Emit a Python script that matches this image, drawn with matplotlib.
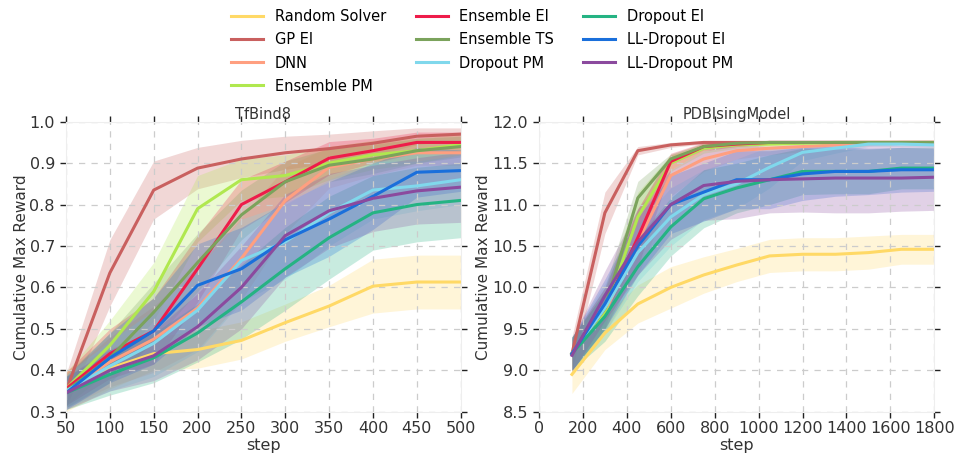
import numpy as np
import matplotlib
matplotlib.use("Agg")
import matplotlib.pyplot as plt

names = ["Random Solver", "GP EI", "DNN", "Ensemble PM", "Ensemble EI",
         "Ensemble TS", "Dropout PM", "Dropout EI", "LL-Dropout EI", "LL-Dropout PM"]
colors = ["#ffd966", "#c9605f", "#ff9f80", "#b0e84f", "#ee1c4a",
          "#7ba35c", "#80d8ec", "#25b383", "#1a6fdb", "#8b4a9e"]

# TfBind8
tf_steps = [50, 100, 150, 200, 250, 300, 350, 400, 450, 500]
tf_mean = {
    "Random Solver": [0.35, 0.405, 0.44, 0.45, 0.472, 0.515, 0.555, 0.603, 0.613, 0.613],
    "GP EI":         [0.35, 0.635, 0.835, 0.888, 0.91, 0.925, 0.935, 0.948, 0.965, 0.97],
    "DNN":           [0.35, 0.42, 0.475, 0.55, 0.67, 0.81, 0.89, 0.91, 0.925, 0.925],
    "Ensemble PM":   [0.355, 0.46, 0.59, 0.79, 0.86, 0.87, 0.9, 0.92, 0.93, 0.945],
    "Ensemble EI":   [0.355, 0.44, 0.495, 0.645, 0.80, 0.855, 0.912, 0.93, 0.95, 0.95],
    "Ensemble TS":   [0.35, 0.43, 0.54, 0.66, 0.775, 0.855, 0.895, 0.91, 0.93, 0.94],
    "Dropout PM":    [0.35, 0.41, 0.465, 0.545, 0.665, 0.71, 0.78, 0.835, 0.845, 0.86],
    "Dropout EI":    [0.345, 0.39, 0.43, 0.49, 0.565, 0.645, 0.72, 0.78, 0.80, 0.81],
    "LL-Dropout EI": [0.345, 0.43, 0.495, 0.605, 0.645, 0.715, 0.765, 0.82, 0.878, 0.882],
    "LL-Dropout PM": [0.345, 0.40, 0.435, 0.505, 0.60, 0.725, 0.785, 0.815, 0.833, 0.842],
}
tf_std = {
    "Random Solver": [0.05, 0.05, 0.04, 0.045, 0.045, 0.045, 0.05, 0.065, 0.065, 0.065],
    "GP EI":         [0.04, 0.08, 0.07, 0.05, 0.045, 0.04, 0.035, 0.03, 0.02, 0.015],
    "DNN":           [0.04, 0.06, 0.08, 0.1, 0.1, 0.08, 0.05, 0.04, 0.03, 0.03],
    "Ensemble PM":   [0.04, 0.06, 0.07, 0.08, 0.05, 0.05, 0.04, 0.035, 0.03, 0.025],
    "Ensemble EI":   [0.04, 0.06, 0.08, 0.08, 0.06, 0.05, 0.04, 0.03, 0.025, 0.025],
    "Ensemble TS":   [0.04, 0.06, 0.07, 0.07, 0.06, 0.05, 0.04, 0.035, 0.03, 0.025],
    "Dropout PM":    [0.04, 0.06, 0.08, 0.1, 0.1, 0.09, 0.08, 0.07, 0.06, 0.06],
    "Dropout EI":    [0.04, 0.05, 0.06, 0.07, 0.09, 0.1, 0.1, 0.09, 0.09, 0.09],
    "LL-Dropout EI": [0.04, 0.06, 0.08, 0.1, 0.1, 0.09, 0.09, 0.08, 0.06, 0.05],
    "LL-Dropout PM": [0.04, 0.05, 0.06, 0.08, 0.1, 0.1, 0.09, 0.08, 0.08, 0.085],
}

# PDBIsingModel
pdb_steps = [150, 300, 450, 600, 750, 900, 1050, 1200, 1350, 1500, 1650, 1800]
pdb_mean = {
    "Random Solver": [8.95, 9.45, 9.8, 10.0, 10.15, 10.27, 10.38, 10.4, 10.4, 10.42, 10.46, 10.46],
    "GP EI":         [9.2, 10.9, 11.65, 11.72, 11.75, 11.75, 11.75, 11.75, 11.75, 11.75, 11.75, 11.75],
    "DNN":           [9.2, 9.7, 10.55, 11.35, 11.55, 11.65, 11.68, 11.7, 11.72, 11.74, 11.75, 11.75],
    "Ensemble PM":   [9.2, 9.7, 10.85, 11.5, 11.68, 11.72, 11.73, 11.74, 11.75, 11.75, 11.75, 11.75],
    "Ensemble EI":   [9.2, 9.75, 10.6, 11.52, 11.7, 11.73, 11.75, 11.75, 11.75, 11.75, 11.75, 11.75],
    "Ensemble TS":   [9.2, 9.75, 11.08, 11.55, 11.7, 11.74, 11.75, 11.75, 11.75, 11.75, 11.75, 11.75],
    "Dropout PM":    [9.2, 9.75, 10.42, 10.85, 11.12, 11.25, 11.45, 11.63, 11.68, 11.73, 11.73, 11.72],
    "Dropout EI":    [9.2, 9.65, 10.25, 10.73, 11.07, 11.2, 11.3, 11.4, 11.4, 11.4, 11.44, 11.44],
    "LL-Dropout EI": [9.2, 9.8, 10.5, 11.0, 11.15, 11.3, 11.3, 11.37, 11.4, 11.4, 11.42, 11.42],
    "LL-Dropout PM": [9.18, 9.9, 10.55, 11.0, 11.23, 11.28, 11.3, 11.31, 11.32, 11.32, 11.32, 11.33],
}
pdb_std = {
    "Random Solver": [0.23, 0.2, 0.23, 0.25, 0.22, 0.2, 0.2, 0.2, 0.2, 0.2, 0.18, 0.18],
    "GP EI":         [0.2, 0.25, 0.05, 0.03, 0.02, 0.01, 0.01, 0.01, 0.01, 0.01, 0.01, 0.01],
    "DNN":           [0.2, 0.25, 0.4, 0.25, 0.15, 0.1, 0.08, 0.06, 0.05, 0.03, 0.02, 0.02],
    "Ensemble PM":   [0.2, 0.25, 0.3, 0.1, 0.06, 0.04, 0.03, 0.02, 0.01, 0.01, 0.01, 0.01],
    "Ensemble EI":   [0.2, 0.25, 0.35, 0.1, 0.05, 0.03, 0.02, 0.01, 0.01, 0.01, 0.01, 0.01],
    "Ensemble TS":   [0.2, 0.25, 0.2, 0.06, 0.04, 0.02, 0.01, 0.01, 0.01, 0.01, 0.01, 0.01],
    "Dropout PM":    [0.2, 0.3, 0.35, 0.35, 0.3, 0.3, 0.25, 0.1, 0.06, 0.03, 0.03, 0.03],
    "Dropout EI":    [0.2, 0.3, 0.35, 0.35, 0.35, 0.3, 0.3, 0.28, 0.27, 0.27, 0.25, 0.25],
    "LL-Dropout EI": [0.2, 0.3, 0.35, 0.35, 0.35, 0.35, 0.35, 0.32, 0.3, 0.28, 0.27, 0.26],
    "LL-Dropout PM": [0.2, 0.3, 0.4, 0.42, 0.42, 0.45, 0.4, 0.4, 0.42, 0.42, 0.4, 0.4],
}

plt.rcParams["font.family"] = "DejaVu Sans"
fig = plt.figure(figsize=(9.55, 4.55), dpi=100)
ax1 = fig.add_axes([0.0691, 0.0952, 0.4133, 0.6373])
ax2 = fig.add_axes([0.5644, 0.0952, 0.4139, 0.6373])


def draw(ax, steps, mean, std, title):
    for name, c in zip(names, colors):
        m = np.array(mean[name])
        s = np.array(std[name])
        ax.fill_between(steps, m - s, m + s, color=c, alpha=0.25, linewidth=0)
        ax.plot(steps, m, color=c, lw=2.2, label=name)
    ax.set_title(title, fontsize=10.5, color="#333333", pad=2)
    ax.set_xlabel("step", fontsize=11.5, color="#333333", labelpad=1)
    ax.set_ylabel("Cumulative Max Reward", fontsize=11, color="#333333", labelpad=0.5)
    ax.grid(True, linestyle=(0, (5, 5)), color="#cccccc", linewidth=0.9)
    for sp in ax.spines.values():
        sp.set_color("#eeeeee")
    ax.tick_params(direction="out", length=4, width=1, top=True, right=True,
                   labelsize=11.5, colors="#222222")
    ax.tick_params(axis="y", pad=4)
    ax.tick_params(axis="x", pad=3)
    ax.tick_params(labelcolor="#333333")


draw(ax1, tf_steps, tf_mean, tf_std, "TfBind8")
ax1.set_xlim(50, 500)
ax1.set_ylim(0.3, 1.0)
ax1.set_xticks(np.arange(50, 501, 50))
ax1.set_yticks(np.arange(0.3, 1.01, 0.1))

draw(ax2, pdb_steps, pdb_mean, pdb_std, "PDBIsingModel")
ax2.set_xlim(0, 1800)
ax2.set_ylim(8.5, 12.0)
ax2.set_xticks(np.arange(0, 1801, 200))
ax2.set_yticks(np.arange(8.5, 12.01, 0.5))

handles, labels = ax1.get_legend_handles_labels()
fig.legend(handles, labels, loc="upper center", bbox_to_anchor=(0.505, 1.0),
           ncol=3, frameon=False, fontsize=10.5, handlelength=2.2,
           columnspacing=2.0, labelspacing=0.55, borderaxespad=0.25)

fig.savefig("out.png", dpi=100)
